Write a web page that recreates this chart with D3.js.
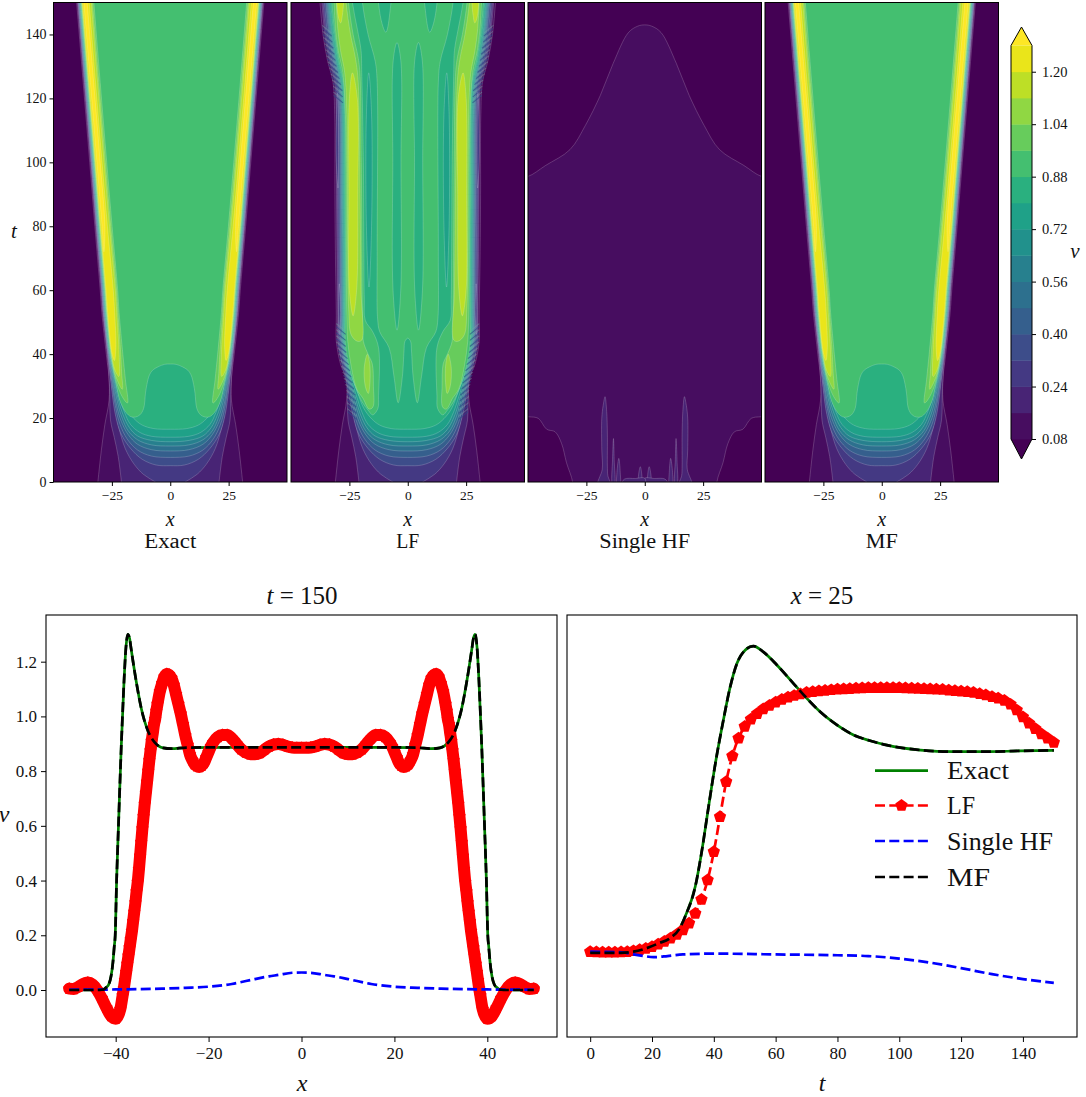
<!DOCTYPE html>
<html><head><meta charset="utf-8">
<script src="https://cdn.jsdelivr.net/npm/d3@7/dist/d3.min.js"></script>
<style>html,body{margin:0;padding:0;background:#fff}svg{display:block}text{font-family:"Liberation Serif",serif;fill:#111}.domain{stroke:#000}</style>
</head><body><script>
// ---------- contour data (x,t), right half, mirrored when drawn
const levels=[0.08,0.16,0.24,0.32,0.40,0.48,0.56,0.64,0.72,0.80,0.88,0.96,1.04,1.12,1.20,1.28];
const cbarTicks=[0.08,0.24,0.40,0.56,0.72,0.88,1.04,1.20];
const panelNames=["Exact","LF","Single HF","MF"];
const bowls=[
 [[0,-5],[31.7,-5],[31,0],[29.5,10],[28,18],[26.2,25.6],[26.3,33]],
 [[0,-5],[20.2,-5],[20.9,0],[22.3,8],[24,14],[25.6,19.4],[26,30]],
 [[0,-3],[6.4,0],[11.5,2.4],[15.5,5.6],[19.3,10.5],[22.1,17.3],[23.8,24],[25.6,33]],
 [[0,5.1],[6,5.3],[12,7.1],[17,10.5],[21,15],[23.5,21]],
 [[0,7.7],[8,8.1],[14,10],[18.5,13.5],[21.5,18],[23.3,23]],
 [[0,9.7],[8,10.1],[14,11.8],[18,14.8],[21,19],[23,24]],
 [[0,11.25],[8,11.6],[14,13.2],[18,16],[20.6,20],[22.6,25]],
 [[0,12.6],[8,13],[14,14.4],[17.5,17],[20.2,21],[22.3,26]],
 [[0,14],[8,14.3],[13,15.5],[17,18],[19.6,21.8],[22,27]],
 [[0,16.5],[7,16.7],[12,17.8],[15.5,19.8],[18.8,23],[21.5,28]],
 [[0,36.9],[2.5,36.8],[5.3,36],[7.5,35],[8.9,33.5],[10,30.5],[10.6,27.8],[11.4,23],[13,21],[15,20.3],[16.8,20.4],[19,21.8],[21.5,25.3],[23,30]]
];
const ridgeT=[40,53,60,80,100,125,150,158];
const ridgeX=[24.9,26.8,27.5,29.8,32,34.8,37.6,38.5];
const ridgeOffsets=[2.5,2.1,1.9,1.75,1.6,1.45,1.3,1.15,1,.85,.7,.5,.35,.2,0,-.6];
const stripInner=[
 [[18.3,24.7],[19.2,32],[20.3,40],[21.9,53],[22.5,60],[24.9,80],[27.2,100],[30,125],[32.7,150],[33.5,158]],
 [[20.5,29],[20.8,34],[21.2,40],[22.4,53],[23,60],[25.5,80],[27.8,100],[30.6,125],[33.3,150],[34.1,158]],
 [[22,33],[21.9,40],[22.9,53],[23.5,60],[26,80],[28.3,100],[31.1,125],[33.8,150],[34.6,158]],
 [[23.9,38],[23.3,42],[23.8,53],[24.4,60],[26.9,80],[29.2,100],[32,125],[34.7,150],[35.5,158]],
 [[28.4,72],[28,80],[30,100],[32.8,125],[35.6,150],[36.5,158]]
];
const stripLower=[[[22.5,30],[20,26]],[[23.3,33]],[[23.7,35]],[],[]];
const stripMinT=[40,40,40,40,78];
// LF
const lfFrontT=[36,44,52,72,90,115,125,132,140,150,158];
const lfOuter=[28.4,30.6,30.6,31,31.2,31.3,32,34.4,36.3,37.6,38.6];
const lfScale=[.65,.75,.75,.85,.85,.85,.88,.95,1,1,1];
const lfOffsets=[0,.8,1.3,1.9,2.5,2.9,3.3,3.7,4.1,4.6,5.1];
const lfCentre=[[0,45],[1.2,44],[1.6,41],[2.3,33],[4.1,24.8],[5.9,33],[8,42],[12,47],[12.9,51],[13.1,72],[13.1,125],[13.9,131.5],[17,140],[19.4,150],[20,158],[0,158]];
const lfFinger=[[4.6,137.5],[6.2,132],[6.4,100],[6.3,60],[4.6,47.5],[3,60],[2.9,100],[3,132]];
const lfTopBlob=[[9.4,140.7],[11.8,146],[12,158],[7.7,158],[7.8,146]];
const lfDark=[[16.7,128],[17.7,115],[17.7,80],[16.6,61],[15.5,80],[15.5,115]];
const lfOuterInner=[[15,21],[12.8,23],[12.5,27],[12.5,42],[15,47],[18.2,50.6],[18.6,57],[18.8,72],[19,100],[19.7,128],[20,135],[21.6,141.7],[23.7,150],[24.6,158]];
const lfOuterLower=[[22,29],[19.5,25],[17,22.5]];
const lf96=[[26.2,158],[32.4,158],[31.6,150],[31,142],[29.8,135],[27.8,128],[26.7,115],[26.4,100],[26.3,72],[26.1,52],[25.7,44],[24.2,36],[21.8,29],[19.2,26.2],[16.5,22.8],[14.9,23.5],[14.7,30],[15.2,37],[17,40],[19,44],[19.4,52],[19.6,72],[19.9,100],[20.5,128],[21.3,133],[23.4,140],[25.4,150]];
const lf104=[[27,158],[31.4,158],[30.6,150],[30,142],[28.8,135],[27,128],[26.1,115],[25.9,100],[25.7,72],[25.3,54],[24.2,46],[21.5,44],[19.7,44.4],[20,60],[20.6,100],[21.3,126],[22.5,133],[24.5,140],[26.4,150]];
const lf104Island=[[17.3,40],[18.6,36],[18.2,30],[16.9,27.7],[16.2,31],[16.3,37]];
const lf112=[[23.7,128],[25,120],[25.2,90],[25,60],[23.4,52],[21.9,60],[21.4,90],[21.6,120]];
const lf112Top=[[27.4,158],[30.5,158],[30.4,150],[29.6,145],[28.7,143.6],[28,146],[27.5,150]];
const lfDarkEdges=[[[30,122],[30.6,112],[30.6,100],[29.9,92],[29.7,105]],[[29.3,62],[29.6,54],[29.4,46],[28.9,53]]];
const lfRippleEdgeT=[19.4,29,36,44,52,72,115,125,132,140,150];
const lfRippleEdgeX=[25.6,26.3,28.4,30.6,30.6,31,31.3,32,34.4,36.3,37.6];
const lfRippleBands=[[121,143],[22,50]];
// Single HF
const hfBase=[[0,-5],[30.9,-5],[30.9,0],[33.5,6],[35.6,12],[38.4,15.7],[42,16.5],[45.6,19.9],[49.6,20.4],[55,20.6],[55,95.4],[50,95.6],[42.5,99],[32,104],[25.4,111.6],[19,121],[13.5,131],[7,140.6],[3,142.6],[0,143]];
const hfSpikes=[
 [[14.7,-1],[15.8,2],[16,5],[16,15],[16.3,22],[17,26.7],[17.8,24],[18.4,20],[18.4,10],[18.2,4],[20.1,-1]],
 [[10.6,-1],[10.5,3],[11.1,7.4],[11.9,3],[11.8,-1]],
 [[13,-1],[13.1,7],[13.4,13.6],[13.8,7],[13.8,-1]],
 [[1.4,0],[1.3,2.5],[1.9,4.8],[2.6,2.5],[2.6,0]],
 [[0,1.2],[4,1.1],[8.7,.9],[10,-1],[0,-1]]
];
// ---------- line data
const sliceExactX=[-50,-44,-43,-42.5,-42,-41.5,-41,-40.6,-40.3,-40.1,-39.8,-39.4,-38.8,-38.2,-37.8,-37.4,-37,-36.7,-35.6,-34.5,-33,-31.6,-29.8,-28,-24.8,-15,0];
const sliceExactV=[0,0,.001,.003,.01,.02,.05,.1,.16,.2,.4,.6,.89,1.13,1.25,1.30,1.285,1.25,1.13,1.03,.945,.905,.885,.882,.886,.887,.887];
const sliceLFX=[-50,-49,-48,-47,-46,-45,-44,-43,-42,-41,-40,-39,-38.5,-38.25,-38,-37.75,-37.5,-37.25,-37,-36.75,-36.5,-36.25,-36,-35.75,-35.5,-35.25,-35,-34.75,-34.5,-34.25,-34,-33.75,-33.5,-33.25,-33,-32.75,-32.5,-32.25,-32,-31.75,-31.5,-31.25,-31,-30.5,-30,-29.5,-29,-28.5,-28,-27.5,-27,-26.5,-26,-25.5,-25,-24.5,-24,-23.5,-23,-22.5,-22,-21.5,-21,-20.5,-20,-19.5,-19,-18,-17,-16,-15,-14,-13,-12,-11,-10,-9,-8,-7,-6,-5,-4,-3,-2,-1,0];
const sliceLFV=[.005,.004,.012,.022,.027,.02,0,-.03,-.065,-.095,-.105,-.07,-.02,.005,.035,.065,.095,.125,.155,.185,.215,.25,.285,.32,.36,.395,.44,.49,.54,.59,.635,.68,.72,.76,.80,.84,.875,.91,.94,.97,.99,1.02,1.045,1.09,1.12,1.145,1.155,1.152,1.14,1.115,1.08,1.045,1.01,.97,.93,.895,.86,.84,.825,.818,.815,.82,.83,.85,.87,.89,.905,.925,.932,.932,.92,.90,.88,.868,.862,.862,.866,.878,.89,.897,.899,.896,.89,.886,.885,.885];
const sliceHFX=[-50,-40,-30,-25,-20,-15,-10,-7,-5,-2,0];
const sliceHFV=[.001,.002,.005,.008,.012,.022,.04,.05,.055,.063,.064];
const pointExactT=[0,10,14,18.3,22,25.9,29,30.7,34,36,38.3,40.5,43.1,45.3,47.5,50.2,52.8,56,60.4,65.8,70.1,74.4,79.8,85.2,90.6,96,106.8,117.6,128,139,150];
const pointExactV=[.136,.136,.14,.153,.17,.19,.226,.268,.378,.50,.67,.828,.987,1.108,1.194,1.243,1.257,1.236,1.188,1.12,1.066,1.017,.969,.932,.911,.895,.877,.871,.871,.874,.876];
const pointLFT=[0,2,4,6,8,10,12,14,16,18,20,22,24,26,28,30,32,34,36,38,40,42,44,46,48,50,52,54,56,58,60,62,64,66,68,70,72,74,76,78,80,82,84,86,88,90,92,94,96,98,100,102,104,106,108,110,112,114,116,118,120,122,124,126,128,130,132,134,136,138,140,142,144,146,148,150];
const pointLFV=[.14,.139,.138,.138,.138,.139,.14,.143,.147,.152,.158,.167,.177,.189,.203,.219,.244,.28,.331,.402,.505,.633,.761,.855,.92,.963,.99,1.01,1.027,1.04,1.052,1.062,1.07,1.076,1.082,1.087,1.09,1.093,1.095,1.097,1.099,1.10,1.101,1.103,1.104,1.105,1.105,1.105,1.105,1.105,1.105,1.104,1.103,1.102,1.101,1.10,1.099,1.098,1.096,1.094,1.092,1.09,1.087,1.083,1.078,1.072,1.066,1.058,1.044,1.023,.998,.975,.955,.936,.92,.905];
const pointHFT=[0,10,14,17,20.5,25,30,40,60,80,90,100,110,120,130,140,150];
const pointHFV=[.14,.138,.13,.125,.12,.124,.13,.133,.13,.127,.124,.115,.1,.08,.058,.04,.026];
const legendNames=["Exact","LF","Single HF","MF"];

// ---------- helpers
const W=1086,H=1097;
const svg=d3.select("body").append("svg").attr("width",W).attr("height",H).attr("viewBox",`0 0 ${W} ${H}`);
function label(g,x,y,s,o={}){
  const t=g.append("text").attr("x",x).attr("y",y).attr("text-anchor",o.anchor||"middle").attr("font-size",o.size||14).text(s);
  if(o.italic)t.attr("font-style","italic");
  if(o.len)t.attr("textLength",o.len).attr("lengthAdjust","spacingAndGlyphs");
  return t;
}
function styleAxis(a,size){a.selectAll("text").attr("font-size",size).attr("fill","#222");a.selectAll(".tick line").attr("stroke","#000");a.select(".domain").remove();}
const bandColor=k=>k>=15?d3.interpolateViridis(1):d3.interpolateViridis((k+.5)/15);
const mirror=p=>p.map(d=>[-d[0],d[1]]);
function loop(p){return p.concat(p.filter(d=>d[0]!==0).reverse().map(d=>[-d[0],d[1]]));}

// ---------- top panels
const panelX=[[53.5,287],[291,524.5],[528,761.5],[765,998.5]];
const topT=482,topB=2.5;
const tScale=d3.scaleLinear().domain([0,150]).range([topT,topB]);
const topG=svg.append("g");
function drawPanel(i,painter){
  const [x0,x1]=panelX[i];
  const x=d3.scaleLinear().domain([-50,50]).range([x0,x1]);
  const g=topG.append("g");
  const id="clip"+i;
  g.append("clipPath").attr("id",id).append("rect").attr("x",x0).attr("y",topB).attr("width",x1-x0).attr("height",topT-topB);
  const f=g.append("g").attr("clip-path",`url(#${id})`);
  f.append("rect").attr("x",x0).attr("y",topB).attr("width",x1-x0).attr("height",topT-topB).attr("fill",d3.interpolateViridis(0));
  const line=d3.line().x(d=>x(d[0])).y(d=>tScale(d[1])).curve(d3.curveCatmullRomClosed.alpha(.5));
  const paint=(pts,k)=>f.append("path").attr("d",line(pts)).attr("fill",bandColor(k)).attr("stroke","#fff").attr("stroke-opacity",.27).attr("stroke-width",.7);
  painter(paint,f,x);
  g.append("rect").attr("x",x0).attr("y",topB).attr("width",x1-x0).attr("height",topT-topB).attr("fill","none").attr("stroke","#000").attr("stroke-width",1);
  const ax=g.append("g").attr("transform",`translate(0,${topT})`).call(d3.axisBottom(x).tickValues([-25,0,25]).tickSize(4).tickPadding(4));
  styleAxis(ax,13.5);
  if(i===0){
    const ay=g.append("g").attr("transform",`translate(${x0},0)`).call(d3.axisLeft(tScale).tickValues(d3.range(0,141,20)).tickSize(4).tickPadding(3));
    styleAxis(ay,14);
  }
  const c=(x0+x1)/2;
  label(g,c,526,"x",{italic:true,size:20});
  const lens=[52,23,91,32];
  label(g,c,548,panelNames[i],{size:20,len:lens[i]});
}
function paintExact(paint){
  const rows=(off)=>ridgeT.map((t,j)=>[ridgeX[j]+off,t]);
  bowls.forEach((b,i)=>{
    const pts=b.concat(rows(ridgeOffsets[i]),[[0,158]]);
    paint(loop(pts),i);
  });
  stripInner.forEach((inner,s)=>{
    const lvl=11+s;
    const outer=ridgeT.map((t,j)=>[ridgeX[j]+ridgeOffsets[lvl],t]).filter(d=>d[1]>=stripMinT[s]).reverse();
    const pts=inner.concat(outer,stripLower[s]);
    paint(pts,lvl);paint(mirror(pts),lvl);
  });
}
function paintLF(paint,f,x){
  const front=(i)=>lfFrontT.map((t,j)=>[lfOuter[j]-lfOffsets[i]*lfScale[j],t]);
  bowls.slice(0,10).forEach((b,i)=>paint(loop(b.concat(front(i),[[0,158]])),i));
  paint(loop(lfCentre),10);
  [lfFinger,lfTopBlob].forEach(p=>{paint(p,9);paint(mirror(p),9);});
  paint(lfDark,8);paint(mirror(lfDark),8);
  const gOut=lfOuterInner.concat(front(10).reverse(),lfOuterLower);
  paint(gOut,10);paint(mirror(gOut),10);
  [[lf96,11],[lf104,12],[lf104Island,12],[lf112,13],[lf112Top,13]].forEach(([p,k])=>{paint(p,k);paint(mirror(p),k);});
  lfDarkEdges.forEach(p=>{paint(p,2);paint(mirror(p),2);});
  // ripple on the steep edge: alternating dark and pale hatching
  const edge=d3.scaleLinear().domain(lfRippleEdgeT).range(lfRippleEdgeX);
  lfRippleBands.forEach(([a,b])=>{
    d3.range(a,b,.95).forEach((t,n)=>{
      [1,-1].forEach(sg=>{
        f.append("line").attr("x1",x(sg*edge(t))).attr("y1",tScale(t)).attr("x2",x(sg*(edge(t)-4))).attr("y2",tScale(t-2.4))
         .attr("stroke",n%2?"#6fa8a8":"#2c4a86").attr("stroke-opacity",n%2?.45:.65).attr("stroke-width",1.1);
      });
    });
  });
}
function paintHF(paint){
  paint(loop(hfBase),0);
  hfSpikes.forEach(p=>{paint(p,1);paint(mirror(p),1);});
}
drawPanel(0,paintExact);
drawPanel(1,paintLF);
drawPanel(2,paintHF);
drawPanel(3,paintExact);
label(topG,14,238,"t",{italic:true,size:21});

// ---------- colour bar
(function(){
  const g=svg.append("g");
  const c=d3.scaleLinear().domain([0.08,1.28]).range([439,45.5]);
  const x0=1011,x1=1032,xm=(x0+x1)/2;
  const tri=(a,b)=>`M${x0},${a}L${xm},${b}L${x1},${a}Z`;
  g.append("path").attr("d",tri(c(1.28),27)).attr("fill",d3.interpolateViridis(1));
  g.append("path").attr("d",tri(c(.08),459)).attr("fill",d3.interpolateViridis(0));
  levels.slice(0,-1).forEach((l,k)=>{
    g.append("rect").attr("x",x0).attr("width",x1-x0).attr("y",c(levels[k+1])).attr("height",c(l)-c(levels[k+1])+.4).attr("fill",bandColor(k));
  });
  g.append("path").attr("d",`M${x0},${c(.08)}L${xm},459L${x1},${c(.08)}L${x1},${c(1.28)}L${xm},27L${x0},${c(1.28)}Z`).attr("fill","none").attr("stroke","#000").attr("stroke-width",1);
  const a=g.append("g").attr("transform",`translate(${x1},0)`).call(d3.axisRight(c).tickValues(cbarTicks).tickFormat(d3.format(".2f")).tickSize(4).tickPadding(6));
  styleAxis(a,14.5);
  label(g,1075,258,"v",{italic:true,size:21});
})();

// ---------- lower panels
const vy=d3.scaleLinear().domain([(990-1037)/273.6,(990-615)/273.6]).range([1037,615]);
const sx=d3.scaleLinear().domain([-55,55]).range([46,557]);
const tx=d3.scaleLinear().domain([-7.5,157.5]).range([567,1077]);
const dash="10,4.3";
const pent={draw(ctx,size){const r=Math.sqrt(size);for(let i=0;i<5;i++){const a=-Math.PI/2+i*2*Math.PI/5;const px=r*Math.cos(a),py=r*Math.sin(a);i?ctx.lineTo(px,py):ctx.moveTo(px,py);}ctx.closePath();}};
const marker=d3.symbol().type(pent).size(42);
const sym=a=>a.concat(a.slice(0,-1).map(d=>[-d[0],d[1]]).reverse());
const zip=(a,b)=>a.map((v,i)=>[v,b[i]]);
function linePanel(x,id,series,lf,ribbon){
  const g=svg.append("g");
  const [x0,x1]=x.range();
  g.append("clipPath").attr("id",id).append("rect").attr("x",x0).attr("y",615).attr("width",x1-x0).attr("height",422);
  const f=g.append("g").attr("clip-path",`url(#${id})`);
  const ln=d3.line().x(d=>x(d[0])).y(d=>vy(d[1])).curve(d3.curveMonotoneX);
  const draw=(d,col,ds)=>f.append("path").attr("d",ln(d)).attr("fill","none").attr("stroke",col).attr("stroke-width",2.7).attr("stroke-dasharray",ds);
  draw(series.exact,"green",null);
  // densely packed markers merge into a solid ribbon in the x slice
  if(ribbon)f.append("path").attr("d",ln(lf)).attr("fill","none").attr("stroke","red").attr("stroke-width",ribbon).attr("stroke-linejoin","round").attr("stroke-linecap","round");
  f.selectAll(".m").data(lf).enter().append("path").attr("transform",d=>`translate(${x(d[0])},${vy(d[1])})`).attr("d",marker).attr("fill","red");
  draw(lf,"red",dash);
  draw(series.hf,"blue",dash);
  draw(series.exact,"black",dash);
  g.append("rect").attr("x",x0).attr("y",615).attr("width",x1-x0).attr("height",422).attr("fill","none").attr("stroke","#000").attr("stroke-width",1.1);
  return g;
}
const gL=linePanel(sx,"cl",{exact:sym(zip(sliceExactX,sliceExactV)),hf:sym(zip(sliceHFX,sliceHFV))},sym(zip(sliceLFX,sliceLFV)),12);
const gR=linePanel(tx,"cr",{exact:zip(pointExactT,pointExactV),hf:zip(pointHFT,pointHFV)},zip(pointLFT,pointLFV),0);
styleAxis(gL.append("g").attr("transform","translate(0,1037)").call(d3.axisBottom(sx).tickValues([-40,-20,0,20,40]).tickSize(5).tickPadding(5)),17);
styleAxis(gL.append("g").attr("transform","translate(46,0)").call(d3.axisLeft(vy).tickValues([0,.2,.4,.6,.8,1,1.2]).tickFormat(d3.format(".1f")).tickSize(5).tickPadding(4)),17);
styleAxis(gR.append("g").attr("transform","translate(0,1037)").call(d3.axisBottom(tx).tickValues(d3.range(0,141,20)).tickSize(5).tickPadding(5)),17);
label(gL,302,1091,"x",{italic:true,size:24});
label(gR,822,1091,"t",{italic:true,size:24});
label(gL,4,822,"v",{italic:true,size:24});
function title(g,cx,a,b){
  const t=g.append("text").attr("x",cx).attr("y",604).attr("text-anchor","middle").attr("font-size",25);
  t.append("tspan").attr("font-style","italic").text(a);
  t.append("tspan").text(" = "+b);
}
title(gL,302,"t","150");
title(gR,822,"x","25");
// legend
(function(){
  const g=svg.append("g");
  const ys=[770.7,805.5,841,877];
  const cols=["green","red","blue","black"];
  const lens=[62,28,106,43];
  legendNames.forEach((n,i)=>{
    const l=g.append("line").attr("x1",875).attr("x2",928).attr("y1",ys[i]).attr("y2",ys[i]).attr("stroke",cols[i]).attr("stroke-width",2.7);
    if(i)l.attr("stroke-dasharray",dash);
    if(i===1)g.append("path").attr("transform",`translate(901.5,${ys[i]})`).attr("d",marker).attr("fill","red");
    label(g,947,ys[i]+8.5,n,{anchor:"start",size:25,len:lens[i]});
  });
})();
</script></body></html>
